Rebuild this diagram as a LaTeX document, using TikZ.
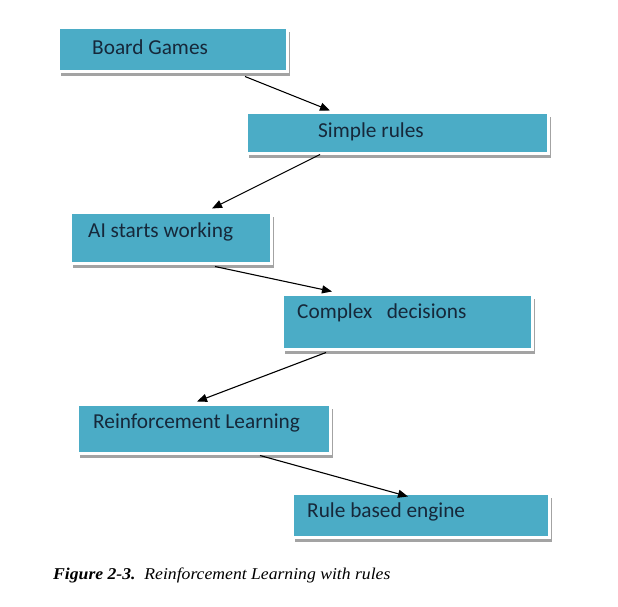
\documentclass[tikz,border=0pt]{standalone}
\usepackage{fontspec}
\setmainfont{Liberation Serif}
\newfontfamily\boxfont{Carlito}
\newfontfamily\capfont[FakeStretch=1.07]{Liberation Serif}
\usetikzlibrary{shadows,arrows.meta}
\definecolor{boxblue}{HTML}{4BACC6}
\definecolor{boxtext}{RGB}{22,40,58}
\begin{document}
\begin{tikzpicture}[x=1pt,y=-1pt,
  box/.style={rectangle, inner sep=0pt, fill=boxblue, draw=white, line width=3pt,
    drop shadow={shadow xshift=3pt, shadow yshift=-4.5pt, fill=black!40, opacity=0.9}},
  lbl/.style={anchor=west, inner sep=0pt, text=boxtext, font=\boxfont\fontsize{21.3}{24}\selectfont},
  arr/.style={line width=1.1pt, -{Triangle[length=10pt,width=8pt]}}]
\useasboundingbox (0,0) rectangle (618,607);
\node[box, minimum width=229pt, minimum height=44pt] (b1) at (172.5,50) {};
\node[box, minimum width=302pt, minimum height=40pt] (b2) at (397,133) {};
\node[box, minimum width=201pt, minimum height=51pt] (b3) at (170.5,237.5) {};
\node[box, minimum width=250pt, minimum height=55pt] (b4) at (407,321.5) {};
\node[box, minimum width=253pt, minimum height=49pt] (b5) at (203.5,428.5) {};
\node[box, minimum width=257pt, minimum height=44pt] (b6) at (420.5,515) {};
\node[lbl] (t1) at (92,47) {Board Games};
\node[lbl] (t2) at (318,132) {Simple rules};
\node[lbl] (t3) at (88,232) {AI starts working};
\node[lbl] (t4) at (297,313) {Complex\ \ \ decisions};
\node[lbl] (t5) at (93,423) {Reinforcement Learning};
\node[lbl] (t6) at (307,512) {Rule based engine};
\draw[arr] ([shift={(72.5,3)}]b1.south) -- ([shift={(-67,-1)}]b2.north);
\draw[arr] ([shift={(-77,0)}]b2.south) -- ([shift={(41.5,-2)}]b3.north);
\draw[arr] ([shift={(44.5,2)}]b3.south) -- ([shift={(-75,-1)}]b4.north);
\draw[arr] ([shift={(-81,2)}]b4.south) -- ([shift={(-6.5,-1)}]b5.north);
\draw[arr] ([shift={(56.5,1)}]b5.south) -- ([shift={(-12.5,5)}]b6.north);
\node[anchor=west, inner sep=0pt, font=\capfont\fontsize{16.5}{19}\selectfont] (cap) at (53,575)
  {\textbf{\textit{Figure 2-3.}}\ \ \textit{Reinforcement Learning with rules}};
\end{tikzpicture}
\end{document}
